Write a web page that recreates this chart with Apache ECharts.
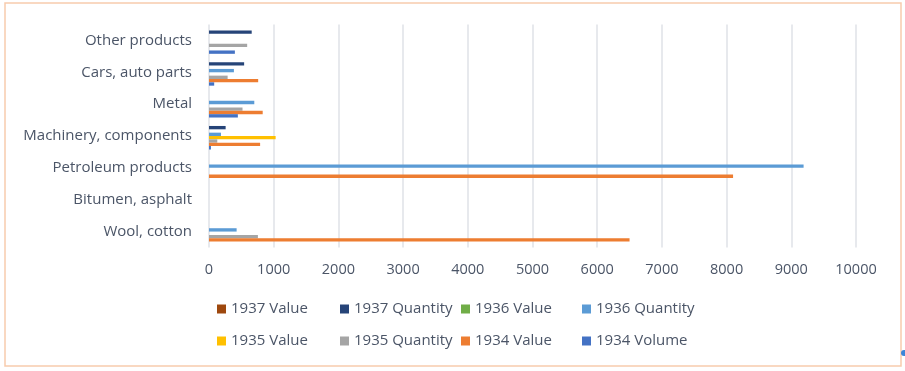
<!DOCTYPE html>
<html>
<head>
<meta charset="utf-8">
<script src="https://cdn.jsdelivr.net/npm/echarts@6/dist/echarts.min.js"></script>
<style>
html,body{margin:0;padding:0;background:#fff;}
#chart{width:905px;height:371px;}
</style>
</head>
<body>
<div id="chart"></div>
<script>
const categories = ["Wool, cotton", "Bitumen, asphalt", "Petroleum products", "Machinery, components", "Metal", "Cars, auto parts", "Other products"];
const xTicks = [0, 1000, 2000, 3000, 4000, 5000, 6000, 7000, 8000, 9000, 10000];
const volume1934 = [0, 0, 0, 30, 446, 80, 400];
const value1934 = [6500, 0, 8100, 790, 830, 760, 0];
const quantity1935 = [756, 0, 0, 128, 518, 288, 590];
const value1935 = [0, 0, 0, 1030, 0, 0, 0];
const quantity1936 = [427, 0, 9190, 185, 700, 385, 0];
const value1936 = [0, 0, 0, 0, 0, 0, 0];
const quantity1937 = [0, 0, 0, 257, 0, 543, 660];
const value1937 = [0, 0, 0, 0, 0, 0, 0];
const legendColumns = [
  ["1937 Value", "1935 Value"],
  ["1937 Quantity", "1935 Quantity"],
  ["1936 Value", "1934 Value"],
  ["1936 Quantity", "1934 Volume"]
];

const seriesDefs = [
  ["1937 Value", value1937, "#9E480E"],
  ["1937 Quantity", quantity1937, "#264478"],
  ["1936 Value", value1936, "#70AD47"],
  ["1936 Quantity", quantity1936, "#5B9BD5"],
  ["1935 Value", value1935, "#FFC000"],
  ["1935 Quantity", quantity1935, "#A5A5A5"],
  ["1934 Value", value1934, "#ED7D31"],
  ["1934 Volume", volume1934, "#4472C4"]
];

const FONT = "Open Sans";
const TXT = "#4b5567";
const legendLefts = [217, 340, 461, 582];
const chart = echarts.init(document.getElementById("chart"), null, {renderer: "canvas"});
chart.setOption({
  animation: false,
  backgroundColor: "#fff",
  graphic: [
    {type: "rect", shape: {x: 5, y: 3, width: 896, height: 363}, style: {fill: "none", stroke: "#f8cbad", lineWidth: 1.5}, silent: true},
    {type: "circle", shape: {cx: 904, cy: 353, r: 3}, style: {fill: "#3d85d8"}, silent: true}
  ],
  grid: {left: 209, right: 49, top: 24.5, bottom: 123.5, containLabel: false},
  xAxis: {
    type: "value", min: 0, max: 10000, interval: 1000,
    axisLine: {show: false}, axisTick: {show: false},
    splitLine: {show: true, lineStyle: {color: "#dfe2e7", width: 1.5}},
    axisLabel: {color: TXT, fontFamily: FONT, fontSize: 14.5, margin: 15,
      formatter: function (v) { return xTicks.indexOf(v) >= 0 ? String(v) : ""; }}
  },
  yAxis: {
    type: "category", data: categories,
    axisLine: {show: false}, axisTick: {show: false},
    axisLabel: {color: TXT, fontFamily: FONT, fontSize: 15, margin: 17}
  },
  legend: legendColumns.map(function (col, i) {
    return {
      data: col, orient: "vertical",
      left: legendLefts[i], top: 299, padding: 0,
      itemWidth: 9, itemHeight: 9, itemGap: 12,
      icon: "rect",
      textStyle: {color: TXT, fontFamily: FONT, fontSize: 15, lineHeight: 20}
    };
  }),
  series: seriesDefs.map(function (d) {
    return {
      name: d[0], type: "bar", data: d[1],
      itemStyle: {color: d[2]},
      barGap: "0%", barCategoryGap: "16%"
    };
  })
});
</script>
</body>
</html>
